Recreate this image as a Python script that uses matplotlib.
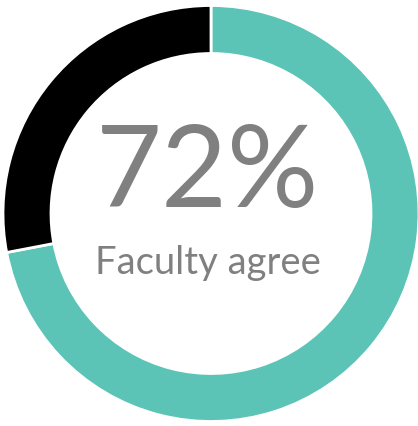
import matplotlib.pyplot as plt

labels = ["Agree", "Other"]
shares = [72, 28]
colors = ["#5BC4B6", "#000000"]
big_text = "72%"
sub_text = "Faculty agree"

fig = plt.figure(figsize=(4.18, 4.26), dpi=100)
ax = fig.add_axes([0, 0, 1, 1])

ax.pie(shares, colors=colors, startangle=90, counterclock=False,
       center=(211, 212.5), radius=208,
       wedgeprops=dict(width=48, edgecolor="white", linewidth=2))

ax.text(208, 219, big_text, ha="center", va="baseline",
        fontsize=82, color="#808080", family="Lato")
ax.text(208, 152, sub_text, ha="center", va="baseline",
        fontsize=27.5, color="#808080", family="Lato")

ax.set_xlim(0, 418)
ax.set_ylim(0, 426)
ax.set_aspect("equal")
ax.axis("off")

fig.savefig("out.png", dpi=100)
